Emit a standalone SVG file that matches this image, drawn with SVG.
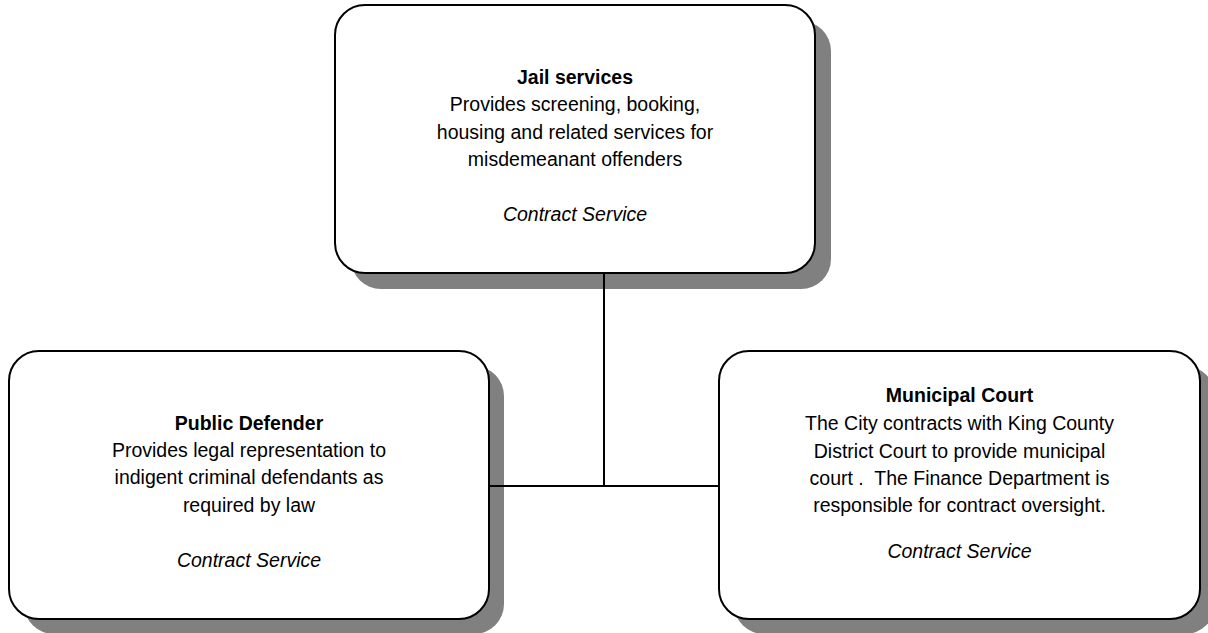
<svg xmlns="http://www.w3.org/2000/svg" width="1208" height="633" viewBox="0 0 1208 633">
<style>
.shadow{fill:#808080;stroke:none}
.box{fill:#ffffff;stroke:#000000;stroke-width:2}
.conn{stroke:#000000;stroke-width:2;fill:none}
text{font-family:"Liberation Sans",Arial,sans-serif;font-size:19.5px;fill:#000000;text-anchor:middle}
.t{font-weight:bold}
.i{font-style:italic}
</style>
<rect width="1208" height="633" fill="#ffffff"/>
<g id="shadows">
<rect class="shadow" x="351" y="21" width="480" height="268" rx="30" ry="30"/>
<rect class="shadow" x="24" y="366" width="480" height="268" rx="30" ry="30"/>
<rect class="shadow" x="734" y="366" width="481" height="268" rx="30" ry="30"/>
</g>
<g id="connectors">
<line class="conn" x1="604" y1="273" x2="604" y2="486"/>
<line class="conn" x1="489" y1="486" x2="719" y2="486"/>
</g>
<g id="jail">
<rect class="box" x="335" y="5" width="480" height="268" rx="30" ry="30"/>
<text x="575" y="84" class="t">Jail services</text>
<text x="575" y="111">Provides screening, booking,</text>
<text x="575" y="138.5">housing and related services for</text>
<text x="575" y="166">misdemeanant offenders</text>
<text x="575" y="221" class="i">Contract Service</text>
</g>
<g id="defender">
<rect class="box" x="9" y="351" width="480" height="268" rx="30" ry="30"/>
<text x="249" y="430" class="t">Public Defender</text>
<text x="249" y="457">Provides legal representation to</text>
<text x="249" y="484">indigent criminal defendants as</text>
<text x="249" y="512">required by law</text>
<text x="249" y="567" class="i">Contract Service</text>
</g>
<g id="court">
<rect class="box" x="719" y="351" width="481" height="268" rx="30" ry="30"/>
<text x="959.5" y="402" class="t">Municipal Court</text>
<text x="959.5" y="430">The City contracts with King County</text>
<text x="959.5" y="458">District Court to provide municipal</text>
<text x="959.5" y="485" xml:space="preserve">court .  The Finance Department is</text>
<text x="959.5" y="512">responsible for contract oversight.</text>
<text x="959.5" y="558" class="i">Contract Service</text>
</g>
</svg>
